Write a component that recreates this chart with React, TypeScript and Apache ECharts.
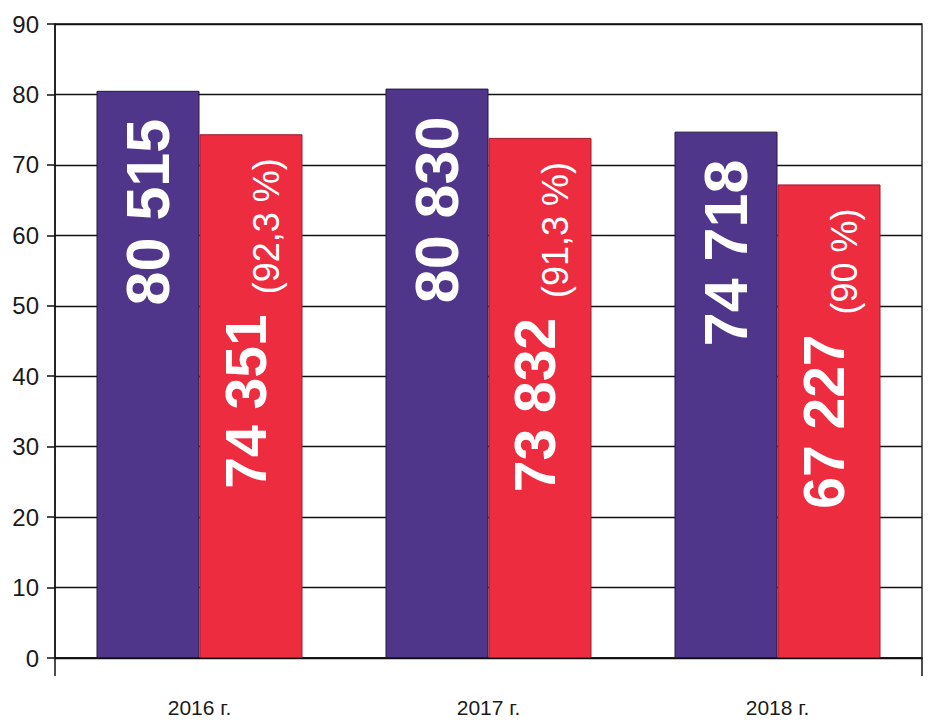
import React, { useEffect, useRef } from "react";
import * as echarts from "echarts";

const categories = ["2016 г.", "2017 г.", "2018 г."];
const totalValues = [80.515, 80.83, 74.718];
const subValues = [74.351, 73.832, 67.227];
const subPercents = ["92,3", "91,3", "90"];
const yTicks = { min: 0, max: 90, interval: 10 };

const FONT = "'Liberation Sans', Arial, Helvetica, sans-serif";
const PURPLE = "#50368a";
const RED = "#ee2c40";

function fmt(v: number): string {
  const n = Math.round(v * 1000);
  const s = String(n);
  return s.replace(/\B(?=(\d{3})+(?!\d))/g, " ");
}

export default function App() {
  const ref = useRef<HTMLDivElement>(null);
  useEffect(() => {
    if (!ref.current) return;
    const chart = echarts.init(ref.current, undefined, { renderer: "svg" });
    chart.setOption({
      animation: false,
      backgroundColor: "#ffffff",
      grid: {
        left: 55,
        right: 19,
        top: 24,
        bottom: 67,
        show: true,
        borderColor: "#111",
        borderWidth: 1.3,
        backgroundColor: "transparent",
      },
      xAxis: {
        type: "category",
        data: categories,
        axisLine: { show: true, lineStyle: { color: "#111", width: 1.5 } },
        axisTick: {
          show: true,
          interval: (i: number) => i === 0,
          length: 18,
          lineStyle: { color: "#111", width: 1.5 },
        },
        axisLabel: {
          margin: 39,
          fontFamily: FONT,
          fontSize: 21,
          color: "#1a1a1a",
        },
      },
      yAxis: {
        type: "value",
        min: yTicks.min,
        max: yTicks.max,
        interval: yTicks.interval,
        axisLine: { show: true, lineStyle: { color: "#111", width: 1.5 } },
        axisTick: { show: true, inside: false, length: 8, lineStyle: { color: "#111", width: 1.5 } },
        splitLine: { show: true, lineStyle: { color: "#111", width: 1.3 } },
        axisLabel: {
          margin: 16,
          fontFamily: FONT,
          fontSize: 24,
          color: "#1a1a1a",
        },
      },
      series: [
        {
          type: "bar",
          data: totalValues,
          barWidth: 103,
          barGap: "0%",
          itemStyle: { color: PURPLE, borderColor: "#24163f", borderWidth: 1 },
          label: {
            show: true,
            position: "insideTop",
            distance: 28,
            rotate: 90,
            align: "right",
            verticalAlign: "middle",
            fontFamily: FONT,
            fontWeight: "bold",
            fontSize: 61,
            color: "#ffffff",
            formatter: (p: any) => fmt(p.value),
          },
        },
        {
          type: "bar",
          data: subValues,
          barWidth: 103,
          barGap: "0%",
          itemStyle: { color: RED, borderColor: "#a0182a", borderWidth: 1 },
          label: {
            show: true,
            position: "insideTop",
            distance: 24,
            rotate: 90,
            align: "right",
            verticalAlign: "middle",
            fontFamily: FONT,
            color: "#ffffff",
            formatter: (p: any) =>
              `{big|${fmt(p.value)}}{pct|(${subPercents[p.dataIndex]} %)}`,
            rich: {
              big: {
                fontFamily: FONT,
                fontWeight: "bold",
                fontSize: 57,
                color: "#ffffff",
                verticalAlign: "bottom",
                padding: [0, 20, 10, 0],
              },
              pct: {
                fontFamily: FONT,
                fontSize: 36,
                color: "#ffffff",
                verticalAlign: "bottom",
              },
            },
          },
        },
      ],
    });
    return () => chart.dispose();
  }, []);
  return (
    <div
      ref={ref}
      style={{ position: "fixed", left: 0, top: 0, width: 941, height: 725, background: "#fff" }}
    />
  );
}
